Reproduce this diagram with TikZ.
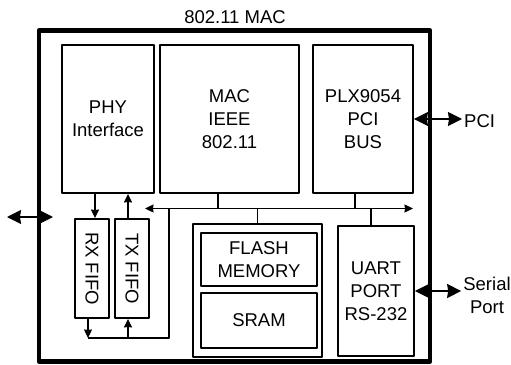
\documentclass[tikz,border=0pt]{standalone}
\usepackage{fontspec}
\setmainfont{Liberation Sans}
\usetikzlibrary{arrows.meta}
\tikzset{
	blk/.style={draw, line width=1.9pt, align=center, inner sep=0pt},
	fifo/.style={blk, minimum width=34pt, minimum height=99pt},
	bigarrow/.style={line width=1.5pt, {Stealth[length=14pt,width=14pt,inset=1pt]}-{Stealth[length=14pt,width=14pt,inset=1pt]}},
	wire/.style={line width=1.2pt}
}
\begin{document}
\begin{tikzpicture}[x=1pt, y=-1pt, >={Stealth[length=8.5pt,width=8pt,inset=0.5pt]}, line join=round, font=\fontsize{18.5}{23}\selectfont]
	\useasboundingbox (0,0) rectangle (511,364);
	\node[draw, line width=4.5pt, minimum width=391pt, minimum height=331pt, inner sep=0pt] (mac11) at (234.5,196) {};
	\node (title) at (235,17) {802.11 MAC};
	\node[blk, minimum width=92pt, minimum height=148pt] (phy) at (108,119) {PHY\\Interface};
	\node[blk, minimum width=139pt, minimum height=148pt] (mac) at (229.5,119) {MAC\\IEEE\\802.11};
	\node[blk, minimum width=100pt, minimum height=148pt] (plx) at (363,119) {PLX9054\\PCI\\BUS};
	\node[fifo] (rx) at (92,268.5) {};
	\node[fifo] (tx) at (132,268.5) {};
	\node[rotate=-90] (rxt) at (rx.center) {RX FIFO};
	\node[rotate=-90] (txt) at (tx.center) {TX FIFO};
	\node[blk, line width=2.8pt, minimum width=129pt, minimum height=133pt] (mem) at (257.5,290.5) {};
	\node[blk, minimum width=116pt, minimum height=53pt] (flash) at (259,259.5) {FLASH\\MEMORY};
	\node[blk, minimum width=116pt, minimum height=55pt] (sram) at (259,320.5) {SRAM};
	\node[blk, minimum width=76pt, minimum height=130pt] (uart) at (376,291) {UART\\PORT\\RS-232};
	\node[anchor=west, inner sep=2pt] (pci) at (462,121) {PCI};
	\node[align=center, inner sep=2pt] (serial) at (487,295) {Serial\\Port};
	\coordinate (ext) at (7,217);
	\coordinate (phyin) at (53,217);
	\coordinate (busL) at (145,208.5);
	\coordinate (busR) at (413,208.5);
	\coordinate (loopL) at (88,338);
	\coordinate (loopR) at (169,338);
	\draw[bigarrow] (ext) -- (phyin);
	\draw[bigarrow] (plx.east) -- (plx.east -| pci.west);
	\draw[bigarrow] (uart.east) -- (uart.east -| serial.west);
	\draw[wire, <->] (busL) -- (busR);
	\draw[wire] (busL -| loopR) -- (loopR) -- (loopL);
	\draw[wire, ->] (95,0 |- phy.south) -- (95,0 |- rx.north);
	\draw[wire, ->] (128,0 |- tx.north) -- (128,0 |- phy.south);
	\draw[wire, ->] (loopL |- rx.south) -- (loopL);
	\draw[wire, ->] (128,0 |- loopL) -- (128,0 |- tx.south);
	\draw[wire] (218,0 |- mac.south) -- (218,0 |- busL);
	\draw[wire] (355,0 |- plx.south) -- (355,0 |- busL);
	\draw[wire] (mem.north |- busL) -- (mem.north);
	\draw[wire] (371,0 |- busL) -- (371,0 |- uart.north);
\end{tikzpicture}
\end{document}
